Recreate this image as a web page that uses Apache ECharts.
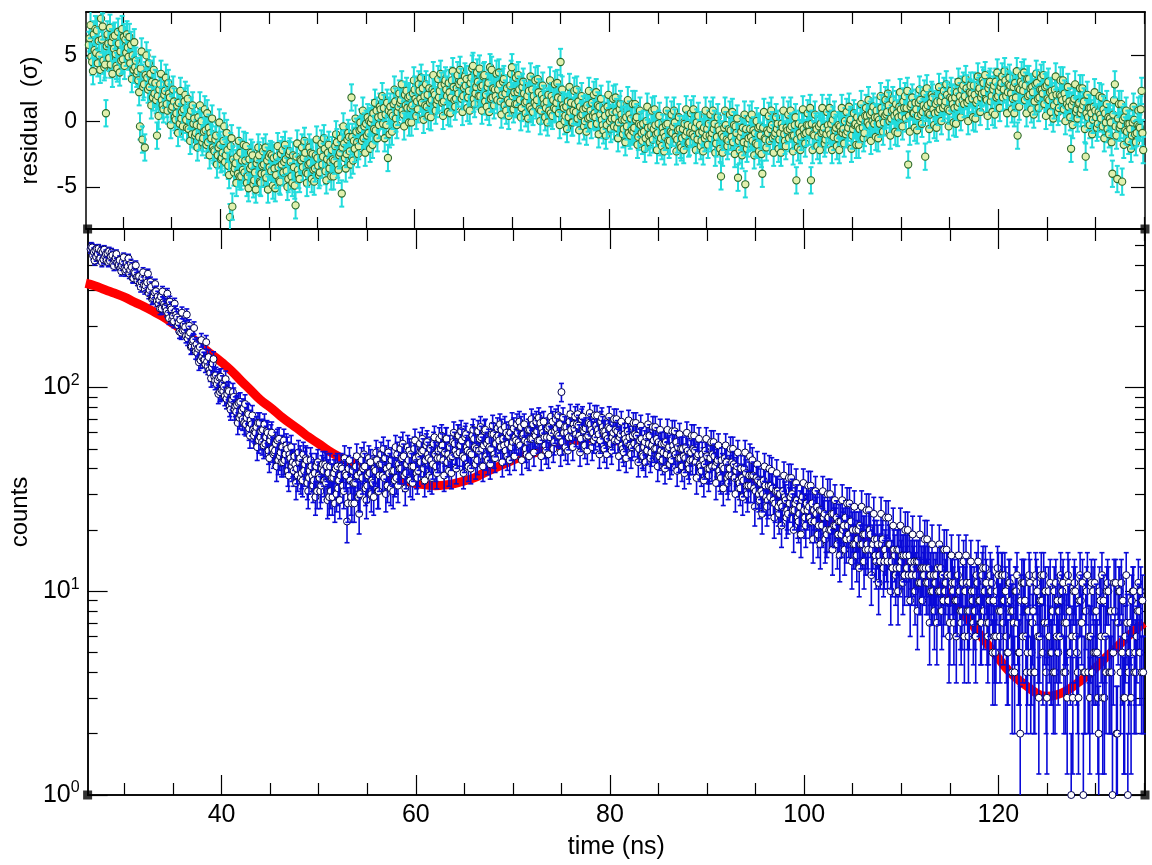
<!DOCTYPE html>
<html><head><meta charset="utf-8">
<script src="https://cdn.jsdelivr.net/npm/echarts@6/dist/echarts.min.js"></script>
<style>html,body{margin:0;padding:0;background:#fff}#c{width:1152px;height:865px}</style>
</head><body><div id="c"></div>
<script>
// ---- sampling grid of the measured data (time bins, ns): bins A, B, C interleaved within each DT ----
const T0 = 26.5, DT = 0.25;

// ---- measured counts, A bins (4 bins per ns per group) ----
const countsA = [
 478,445,470,452, /*26.5*/ 431,462,440,455, 418,446,425,410, 422,396,384,410, 362,390,371,348,
 352,331,318,344, /*31.5*/ 290,312,281,297, 258,279,262,248, 231,247,224,236, 202,215,190,198,
 174,186,168,160, /*36.5*/ 148,158,141,137, 134,122,126,113, 104,112,97,101, 88,96,84,90,
 76,84,73,79, /*41.5*/ 66,74,69,62, 60,67,57,62, 53,60,55,50, 49,55,46,51,
 44,50,47,41, /*46.5*/ 46,40,43,38, 39,44,36,41, 35,41,37,33, 39,34,38,31,
 36,40,32,37, /*51.5*/ 33,38,27,35, 39,34,37,30, 36,41,33,38, 35,40,44,37,
 42,36,40,38, /*56.5*/ 44,39,36,42, 40,46,38,44, 47,41,45,39, 43,49,44,47,
 50,42,47,45, /*61.5*/ 45,52,48,43, 51,46,53,47, 48,55,45,51, 53,47,56,50,
 49,57,52,46, /*66.5*/ 55,50,59,53, 58,51,56,49, 53,60,54,57, 60,52,58,55,
 54,62,56,59, /*71.5*/ 61,55,63,57, 57,64,60,54, 63,58,95,60, 64,57,62,66,
 59,65,56,62, /*76.5*/ 63,58,66,60, 57,62,55,64, 61,56,63,57, 55,61,57,52,
 59,54,57,51, /*81.5*/ 53,58,50,56, 51,57,53,48, 55,50,54,49, 48,54,50,46,
 52,47,51,45, /*86.5*/ 50,45,49,44, 44,49,46,42, 47,42,46,40, 41,46,43,39,
 44,40,43,37, /*91.5*/ 37,42,39,35, 40,35,38,33, 33,37,31,35, 34,30,33,28,
 29,32,27,31, /*96.5*/ 30,26,29,25, 27,30,25,28, 24,28,25,27, 26,22,25,24,
 21,25,23,20, /*101.5*/ 23,20,24,21, 19,22,20,23, 21,18,20,17, 18,21,17,19,
 17,20,16,18, /*106.5*/ 18,15,17,14, 15,17,14,16, 13,16,14,15, 15,12,14,13,
 12,14,11,13, /*111.5*/ 13,11,12,10, 11,13,10,12, 10,12,7,11, 11,9,10,8,
 6,11,8,10, /*116.5*/ 10,12,9,7, 8,11,7,10, 9,6,12,8, 7,10,5,9,
 8,10,7,2, /*121.5*/ 6,9,5,11, 7,4,10,6, 9,7,3,6, 5,10,6,8,
 9,4,7,11, /*126.5*/ 1,10,6,3, 9,1,8,4, 6,10,5,3, 9,3,6,11,
 4,1,8,2, /*131.5*/ 10,5,3,7, 5,9,4,6, 8,4
];

// ---- measured counts, B bins ----
const countsB = [
 492,463,438,481, /*26.6*/ 470,425,452,412, 441,405,433,398, 385,415,371,392, 378,345,366,335,
 322,347,305,328, /*31.6*/ 301,272,293,266, 269,244,257,238, 219,242,211,228, 208,186,203,179,
 181,158,171,150, /*36.6*/ 155,136,149,130, 127,118,131,108, 109,95,104,91, 93,81,87,78,
 82,71,77,67, /*41.6*/ 71,63,66,58, 64,55,61,52, 57,49,58,47, 53,44,48,43,
 47,39,45,43, /*46.6*/ 42,37,45,35, 42,34,39,37, 38,31,36,40, 35,41,29,36,
 38,30,35,41, /*51.6*/ 31,37,40,29, 34,41,29,38, 40,32,37,43, 34,39,31,42,
 37,45,33,41, /*56.6*/ 39,35,47,40, 45,37,42,49, 41,50,38,46, 48,40,52,45,
 44,53,41,49, /*61.6*/ 50,44,56,47, 45,54,49,58, 52,46,57,49, 48,58,51,44,
 56,50,61,53, /*66.6*/ 51,59,47,57, 55,62,52,60, 58,51,63,55, 54,64,59,50,
 62,56,66,58, /*71.6*/ 55,67,60,52, 63,57,68,61, 59,66,54,64, 60,68,57,63,
 66,58,70,61, /*76.6*/ 57,67,62,55, 65,59,68,61, 58,64,53,60, 62,55,59,50,
 56,61,52,58, /*81.6*/ 59,51,55,47, 54,49,58,52, 50,56,46,53, 53,47,51,44,
 49,54,45,50, /*86.6*/ 46,51,42,48, 50,43,47,41, 44,49,40,45, 47,41,44,37,
 41,45,36,40, /*91.6*/ 43,36,41,34, 36,40,33,37, 37,32,36,30, 31,35,29,33,
 33,28,31,26, /*96.6*/ 27,31,28,24, 29,25,27,23, 26,29,23,25, 23,27,22,26,
 25,21,24,19, /*101.6*/ 20,24,21,23, 22,19,21,18, 19,22,17,20, 20,17,19,16,
 16,19,17,15, /*106.6*/ 17,14,18,16, 14,17,13,15, 16,13,15,12, 13,15,12,14,
 14,11,13,12, /*111.6*/ 11,13,10,12, 12,10,13,9, 11,9,12,10, 9,12,8,11,
 10,8,11,9, /*116.6*/ 8,11,9,12, 10,7,9,11, 6,10,8,12, 9,6,11,8,
 7,10,5,9, /*121.6*/ 11,6,8,4, 8,12,6,9, 5,10,7,11, 8,4,9,6,
 10,7,3,8, /*126.6*/ 6,11,5,9, 7,4,10,6, 11,5,8,2, 6,9,4,10,
 8,5,11,7, /*131.6*/ 4,9,6,1, 7,10,5,8, 5,9
];

// ---- measured counts, C bins (the wider-scattered points of the cloud) ----
const countsC = [
 487,420,480,428, /*26.7*/ 412,475,421,466, 460,395,452,400, 372,436,379,430, 405,344,398,350,
 312,368,316,362, /*31.7*/ 330,275,322,280, 244,296,249,289, 264,216,258,221, 188,233,192,228,
 201,159,196,163, /*36.7*/ 133,171,137,167, 141,111,138,115, 93,113,96,110, 97,78,95,81,
 67,85,70,83, /*41.7*/ 75,58,73,61, 51,67,54,66, 61,45,60,48, 41,56,43,55,
 52,37,51,39, /*46.7*/ 34,48,36,47, 45,31,44,33, 29,43,31,42, 42,28,41,29,
 27,41,28,40, /*51.7*/ 45,22,44,27, 27,46,24,44, 47,28,45,30, 29,48,31,47,
 50,30,48,32, /*56.7*/ 31,51,33,50, 53,32,51,35, 34,55,36,53, 56,35,54,37,
 36,57,38,56, /*61.7*/ 58,37,56,39, 38,60,40,58, 61,38,59,41, 40,62,42,61,
 64,41,62,44, /*66.7*/ 42,65,45,63, 66,43,64,46, 44,67,46,66, 68,44,66,47,
 46,70,48,68, /*71.7*/ 71,46,68,49, 47,72,50,70, 73,48,71,51, 49,74,51,72,
 74,48,72,52, /*76.7*/ 49,75,51,73, 73,47,71,50, 47,72,49,70, 70,46,68,48,
 45,69,47,67, /*81.7*/ 67,43,65,46, 43,66,45,64, 64,41,62,44, 40,62,42,61,
 61,39,59,41, /*86.7*/ 38,60,40,58, 58,36,56,39, 35,56,37,54, 54,34,52,36,
 32,52,34,50, /*91.7*/ 50,30,48,32, 29,48,30,46, 44,26,42,28, 24,41,26,40,
 39,23,38,24, /*96.7*/ 21,37,23,36, 36,20,34,22, 19,34,21,33, 33,18,31,19,
 17,31,18,30, /*101.7*/ 30,16,28,17, 15,28,16,27, 27,14,26,15, 13,26,14,25,
 25,12,24,14, /*106.7*/ 11,24,13,23, 23,10,21,12, 10,21,11,20, 20,9,19,10,
 8,19,9,18, /*111.7*/ 18,7,17,8, 7,17,8,16, 16,6,15,7, 6,15,7,14,
 15,6,14,7, /*116.7*/ 6,14,7,13, 13,6,12,5, 5,13,6,12, 12,5,11,4,
 4,12,5,11, /*121.7*/ 11,4,12,5, 4,11,3,12, 12,4,10,5, 4,11,5,12,
 11,4,12,5, /*126.7*/ 3,10,4,12, 11,4,12,3, 4,11,5,10, 12,3,10,4,
 4,11,2,10, /*131.7*/ 11,3,12,4, 3,10,4,11, 10,4
];

// ---- normalised residuals (sigma), A bins ----
const residualsA = [
 5.8,4.9,6.6,5.2, /*26.5*/ 6.1,7.8,4.6,0.6, 5.9,4.3,6.4,5.1, 6.8,5.3,4.7,6.2, 5.6,4.4,5.0,4.1,
 3.8,-0.4,-1.4,-2.0, /*31.5*/ 3.3,2.6,3.0,2.1, -1.1,2.4,1.6,2.0, 1.3,2.1,0.9,1.5, 0.6,1.4,0.2,0.9,
 0.1,-0.6,0.8,-0.2, /*36.5*/ -0.9,0.3,-0.4,-1.3, -0.7,-1.6,-0.9,-2.0, -1.4,-2.6,-1.8,-2.4, -3.1,-2.2,-7.3,-6.5,
 -3.6,-2.7,-4.2,-3.0, /*41.5*/ -3.9,-4.7,-2.9,-3.4, -4.5,-3.2,-2.6,-4.0, -3.3,-4.3,-2.7,-3.8, -2.8,-4.1,-3.5,-2.5,
 -3.9,-2.9,-4.4,-3.1, /*46.5*/ -2.6,-6.4,-3.7,-2.9, -3.5,-2.4,-4.0,-3.2, -2.5,-3.6,-2.8,-3.9, -3.3,-2.1,-2.9,-3.6,
 -2.2,-3.0,-1.6,-2.6, /*51.5*/ -5.5,-1.7,-2.5,-1.2, 1.8,-1.5,-0.8,-1.9, -0.6,-1.3,-0.2,-0.9, -0.1,0.6,-0.7,0.3,
 0.9,-0.2,0.5,-2.8, /*56.5*/ 1.1,0.4,1.5,0.7, 1.4,0.8,2.0,1.0, 1.9,1.2,2.4,1.5, 2.3,1.4,1.9,1.1,
 2.5,1.6,2.2,1.3, /*61.5*/ 1.8,2.7,1.5,2.4, 2.9,1.8,2.6,1.7, 2.1,3.0,1.9,2.7, 1.8,2.9,4.2,2.1,
 3.0,1.9,2.7,1.5, /*66.5*/ 2.6,4.1,1.8,2.4, 1.6,2.8,2.0,1.2, 2.5,1.4,4.1,2.2, 1.3,2.4,1.0,2.1,
 1.5,2.3,0.9,1.9, /*71.5*/ 1.2,2.2,0.8,1.7, 1.0,2.0,0.6,1.6, 0.9,1.8,4.5,1.2, 0.4,1.5,0.7,-0.1,
 1.3,0.2,1.1,0.5, /*76.5*/ 0.0,1.2,0.3,1.4, 0.6,-0.2,1.1,0.1, 0.9,-0.3,0.6,0.2, -0.4,0.7,-0.1,0.5,
 -0.6,0.3,-0.9,0.2, /*81.5*/ -0.8,0.1,-1.2,-0.3, -0.2,-1.3,-0.5,-1.0, -1.4,-0.3,-0.9,-1.6, -0.5,-1.2,-0.2,-1.5,
 -0.9,-0.1,-1.4,-0.6, /*86.5*/ -1.3,-0.2,-0.8,-1.6, -0.4,-1.2,-0.1,-0.9, -1.5,-0.5,-1.1,-0.2, -1.3,-0.6,-1.7,-0.4,
 -4.2,-1.2,-0.3,-1.5, /*91.5*/ -0.7,-1.6,-0.4,-4.3, -1.2,-0.5,-4.8,-1.7, -0.6,-1.5,-0.9,-1.8, -0.4,-4.0,-1.3,-0.7,
 -1.5,-0.3,-1.1,-0.6, /*96.5*/ -1.4,-0.2,-1.0,-0.5, -1.3,-0.4,-1.1,-4.5, -0.2,-1.2,-0.6,-0.9, -0.3,-4.5,-1.0,-0.4,
 -1.2,-0.2,-0.8,-1.4, /*101.5*/ -0.3,-1.0,0.1,-0.7, -1.3,-0.4,-0.9,0.0, -0.8,-0.1,-1.1,-0.3, 0.3,-0.6,0.2,-0.9,
 0.4,-0.3,0.7,-0.2, /*106.5*/ 0.8,0.1,1.0,-0.1, 0.5,1.2,0.2,0.9, 1.3,0.3,0.9,1.5, 0.2,-3.3,1.1,0.6,
 1.4,0.4,1.6,0.7, /*111.5*/ -2.7,1.2,0.5,1.8, 0.6,1.5,0.9,1.9, 1.2,2.0,0.8,1.7, 1.0,2.2,1.4,2.4,
 1.3,2.5,1.6,2.1, /*116.5*/ 2.7,1.4,2.3,1.8, 2.9,1.7,2.5,1.5, 2.4,3.0,1.9,2.6, 1.8,3.1,2.2,2.7,
 1.7,2.9,-1.1,2.4, /*121.5*/ 2.8,1.6,3.2,2.0, 2.6,1.5,2.9,1.8, 2.4,1.3,2.7,1.6, 2.3,1.2,2.0,1.0,
 1.9,0.9,1.7,1.1, /*126.5*/ -2.1,1.5,0.7,1.3, 0.6,1.2,-2.7,0.3, 1.0,0.1,0.8,-0.2, 0.5,-0.4,0.6,-0.6,
 0.2,-4.0,2.8,-4.4, /*131.5*/ -0.5,-4.6,0.3,-0.8, -0.2,-1.1,0.1,-0.9, -0.4,2.3
];

// ---- normalised residuals (sigma), B bins ----
const residualsB = [
 6.3,4.5,5.4,6.9, /*26.6*/ 5.0,6.2,4.1,5.7, 4.8,6.0,5.5,4.2, 5.9,4.6,6.4,5.2, 4.9,5.8,3.9,4.6,
 3.1,4.0,2.6,3.5, /*31.6*/ 2.4,3.6,1.8,2.9, 1.9,2.8,1.2,2.3, 0.8,1.8,1.1,0.3, 1.2,-0.2,0.7,1.5,
 -0.5,0.4,-1.0,0.2, /*36.6*/ -0.3,-1.2,0.0,-0.8, -1.8,-0.5,-1.3,-2.2, -1.1,-2.0,-2.9,-1.5, -2.6,-3.4,-1.9,-2.9,
 -3.2,-4.0,-2.4,-3.7, /*41.6*/ -3.0,-4.2,-3.6,-2.6, -3.9,-2.9,-4.6,-3.4, -4.0,-3.0,-3.5,-2.6, -3.6,-2.7,-4.5,-3.3,
 -3.1,-3.8,-2.5,-4.2, /*46.6*/ -3.5,-2.7,-4.1,-3.0, -2.8,-3.9,-3.3,-2.4, -3.7,-2.6,-3.4,-2.3, -2.7,-3.8,-2.4,-3.1,
 -2.9,-1.9,-3.3,-2.4, /*51.6*/ -2.0,-2.8,-1.4,-2.3, -1.2,-2.1,-1.6,-0.7, -1.5,-0.4,-1.1,0.0, 0.2,-0.6,0.8,-0.3,
 0.4,1.0,-0.3,0.8, /*56.6*/ 0.6,1.3,0.2,1.1, 1.6,0.5,1.2,1.8, 1.0,2.1,1.7,0.9, 1.7,2.5,1.2,2.0,
 1.4,2.4,2.0,1.6, /*61.6*/ 2.3,1.4,2.8,1.9, 2.2,3.1,1.6,2.5, 2.8,1.7,2.5,3.2, 2.3,3.3,1.7,2.6,
 1.9,2.6,3.4,2.0, /*66.6*/ 2.9,1.7,2.5,1.9, 2.4,1.5,3.0,2.1, 1.6,2.7,1.9,1.3, 2.2,1.6,2.6,1.4,
 1.9,1.1,2.4,1.4, /*71.6*/ 1.6,0.9,2.0,1.3, 1.5,0.8,1.9,1.0, 1.4,0.6,1.7,1.0, 1.1,0.3,1.4,0.8,
 0.7,1.5,0.4,0.9, /*76.6*/ 1.0,0.2,0.8,0.4, 0.3,1.2,0.5,-0.3, 0.4,1.1,0.0,0.7, 0.2,-0.5,0.9,0.1,
 0.1,-0.4,0.5,-0.7, /*81.6*/ -0.5,0.3,-0.2,-0.9, -0.8,0.0,-1.1,-0.4, -0.6,-1.0,-0.2,-1.3, -0.9,-0.3,-1.5,-0.8,
 -0.4,-1.2,-0.7,-1.8, /*86.6*/ -0.6,-1.1,-0.3,-0.9, -1.0,-0.5,-1.4,-0.3, -0.8,-1.3,-0.6,-1.1, -0.9,-0.2,-1.2,-0.7,
 -1.0,-0.5,-1.4,-0.6, /*91.6*/ -1.2,-0.3,-0.9,-1.5, -0.8,-1.6,-0.6,-1.3, -1.2,-0.7,-1.7,-0.5, -1.1,-0.5,-1.4,-0.9,
 -0.6,-1.3,-0.9,-0.2, /*96.6*/ -0.9,-0.5,-1.5,-0.7, -0.6,-1.1,-0.3,-1.4, -0.9,-0.4,-1.0,-0.3, -0.8,-0.2,-1.1,-0.6,
 -0.4,-0.9,-0.5,-1.0, /*101.6*/ -0.7,-0.2,-1.2,-0.5, -0.3,-0.8,-0.6,-1.0, -0.5,0.1,-0.6,-0.2, -0.4,0.0,-0.5,0.4,
 -0.1,0.5,0.0,0.3, /*106.6*/ 0.3,-0.2,0.6,0.4, 0.7,0.0,0.8,0.4, 0.6,1.1,0.4,1.0, 1.0,0.4,1.3,0.6,
 0.9,1.4,0.5,1.2, /*111.6*/ 1.0,0.6,1.4,0.9, 1.3,0.7,1.5,1.0, 1.5,0.9,1.8,1.3, 1.8,1.1,1.9,1.6,
 1.9,1.4,2.2,1.7, /*116.6*/ 2.0,1.6,2.5,2.1, 2.2,1.6,2.8,1.9, 2.7,1.8,2.3,2.9, 2.4,1.9,2.8,2.1,
 2.6,1.8,2.5,3.0, /*121.6*/ 2.3,2.7,1.9,2.5, 2.2,2.8,1.7,2.4, 2.1,2.6,1.7,2.2, 1.9,2.4,1.5,2.0,
 1.6,2.1,1.3,1.5, /*126.6*/ 1.2,1.7,0.9,1.4, 0.9,1.5,0.6,1.0, 0.6,1.1,0.3,0.7, 0.2,0.9,-0.1,0.3,
 -0.1,0.5,-0.4,0.2, /*131.6*/ -0.3,0.1,-0.7,-0.2, -0.6,-0.1,-1.0,-0.3, -0.5,-0.9
];

// ---- normalised residuals (sigma), C bins ----
const residualsC = [
 7.3,3.8,7.0,4.4, /*26.7*/ 3.9,7.2,4.3,6.6, 7.1,3.6,6.5,4.0, 3.7,7.0,4.2,6.6, 6.4,3.2,6.0,3.6,
 2.2,5.3,2.8,5.0, /*31.7*/ 4.4,1.2,3.9,1.6, 0.4,3.6,0.9,3.3, 2.9,-0.3,2.4,0.1, -0.9,2.3,-0.4,2.0,
 1.7,-1.5,1.2,-1.1, /*36.7*/ -2.0,1.2,-1.6,0.9, 0.6,-2.6,0.2,-2.3, -3.3,-0.1,-2.8,-0.4, -0.9,-4.1,-1.3,-3.9,
 -4.7,-1.5,-4.2,-1.8, /*41.7*/ -1.9,-5.1,-2.4,-4.8, -5.2,-2.0,-4.7,-2.3, -2.0,-5.2,-2.5,-4.9, -5.1,-1.9,-4.6,-2.2,
 -1.8,-5.0,-2.3,-4.7, /*46.7*/ -4.9,-1.7,-4.4,-2.0, -1.5,-4.7,-2.0,-4.4, -4.6,-1.4,-4.1,-1.7, -1.3,-4.5,-1.8,-4.2,
 -4.2,-1.0,-3.7,-1.3, /*51.7*/ -0.4,-3.6,-0.9,-3.3, -3.0,0.2,-2.5,-0.1, 0.8,-2.4,0.3,-2.1, -1.8,1.4,-1.3,1.1,
 1.9,-1.3,1.4,-1.0, /*56.7*/ -0.8,2.4,-0.3,2.1, 2.8,-0.4,2.3,-0.1, -0.1,3.1,0.4,2.8, 3.3,0.1,2.8,0.4,
 0.3,3.5,0.8,3.2, /*61.7*/ 3.6,0.4,3.1,0.7, 0.6,3.8,1.1,3.5, 3.9,0.7,3.4,1.0, 0.8,4.0,1.3,3.7,
 4.0,0.8,3.5,1.1, /*66.7*/ 0.7,3.9,1.2,3.6, 3.7,0.5,3.2,0.8, 0.4,3.6,0.9,3.3, 3.5,0.3,3.0,0.6,
 0.2,3.4,0.7,3.1, /*71.7*/ 3.2,0.0,2.7,0.3, -0.1,3.1,0.4,2.8, 2.9,-0.3,2.4,0.0, -0.6,2.6,-0.1,2.3,
 2.4,-0.7,1.9,-0.4, /*76.7*/ -0.8,2.3,-0.3,2.0, 2.2,-1.0,1.7,-0.7, -1.1,2.0,-0.6,1.7, 1.8,-1.3,1.3,-1.0,
 -1.6,1.6,-1.1,1.3, /*81.7*/ 1.3,-1.8,0.8,-1.5, -2.1,1.1,-1.6,0.8, 0.9,-2.2,0.4,-1.9, -2.3,0.8,-1.8,0.5,
 0.8,-2.3,0.3,-2.0, /*86.7*/ -2.2,0.9,-1.7,0.6, 0.9,-2.2,0.4,-1.9, -2.3,0.8,-1.8,0.5, 0.8,-2.4,0.3,-2.1,
 -2.4,0.8,-1.9,0.5, /*91.7*/ 0.7,-2.5,0.2,-2.2, -2.6,0.5,-2.1,0.2, 0.5,-2.6,0.0,-2.3, -2.5,0.7,-2.0,0.4,
 0.8,-2.4,0.3,-2.1, /*96.7*/ -2.4,0.8,-1.9,0.5, 0.8,-2.3,0.3,-2.0, -2.2,0.9,-1.7,0.6, 1.0,-2.2,0.5,-1.9,
 -2.2,1.0,-1.7,0.7, /*101.7*/ 1.0,-2.2,0.5,-1.9, -2.2,1.0,-1.7,0.7, 1.1,-2.1,0.6,-1.8, -1.8,1.3,-1.3,1.0,
 1.6,-1.5,1.1,-1.2, /*106.7*/ -1.3,1.9,-0.8,1.6, 2.1,-1.1,1.6,-0.8, -0.9,2.2,-0.4,1.9, 2.3,-0.8,1.8,-0.5,
 -0.7,2.4,-0.2,2.1, /*111.7*/ 2.5,-0.6,2.0,-0.3, -0.5,2.6,0.0,2.3, 2.8,-0.4,2.3,-0.1, -0.2,3.0,0.3,2.7,
 3.2,0.0,2.7,0.3, /*116.7*/ 0.2,3.4,0.7,3.1, 3.5,0.4,3.0,0.7, 0.5,3.7,1.0,3.4, 3.8,0.6,3.3,0.9,
 0.6,3.8,1.1,3.5, /*121.7*/ 3.7,0.6,3.2,0.9, 0.5,3.6,1.0,3.3, 3.5,0.4,3.0,0.7, 0.2,3.4,0.7,3.1,
 3.1,0.0,2.6,0.3, /*126.7*/ -0.3,2.8,0.2,2.5, 2.5,-0.6,2.0,-0.3, -1.0,2.2,-0.5,1.9, 1.8,-1.3,1.3,-1.0,
 -1.6,1.6,-1.1,1.3, /*131.7*/ 1.3,-1.8,0.8,-1.5, -2.1,1.1,-1.6,0.8, 0.9,-2.2
];

// ---- fitted model curve (counts), read at 1 ns steps ----
const fitTimes = [26,27,28,29,30,31,32,33,34,35,36,37,38,39,40,41,42,43,44,45,46,47,48,49,50,
 51,52,53,54,55,56,57,58,59,60,61,62,63,64,65,66,67,68,69,70,71,72,73,74,75,76,77,78,79,80,
 81,82,83,84,85,86,87,88,89,90,91,92,93,94,95,96,97,98,99,100,101,102,103,104,105,106,107,108,109,110,
 111,112,113,114,115,116,117,118,119,120,121,122,123,124,125,126,127,128,129,130,131,132,133,134,135];
const fitCounts = [325,315,302,290,278,263,250,236,222,206,190,174,158,145,133,121,108,97,87,80,73,67,62,57,53,
 49,46,43.5,41.5,40,38.5,37,35.5,34.5,33.8,33.3,33,33.2,33.8,34.8,36,38,40,42,44,46,47.5,49,51,53,54.5,55.5,56,56,55.5,
 54.5,53.5,52.5,51.5,50.5,49.5,48.5,47,45.5,44,42,40,38,35.5,33,31,29.5,28,26.5,25,24,22.5,21,20,19,18,17,16,15,14,
 13,12,11.2,10.5,9.6,8.3,7.2,6.2,5.4,4.7,4.1,3.7,3.4,3.15,3.05,3.1,3.25,3.5,3.8,4.2,4.7,5.2,5.8,6.4,7.0];

// ---- axis ticks ----
const xMajorTicks = [40, 60, 80, 100, 120];
const xMinorTicks = [30, 35, 45, 50, 55, 65, 70, 75, 85, 90, 95, 105, 110, 115, 125, 130, 135];
const resTicks = [-5, 0, 5];
const logMajorTicks = [1, 10, 100];
const logMinorTicks = [2,3,4,5,6,7,8,9, 20,30,40,50,60,70,80,90, 200,300,400,500];

const X_MIN = 26.2, X_MAX = 135.1;
const RES_MIN = -8.2, RES_MAX = 8.3;
const CNT_MIN = 1, CNT_MAX = 600;
const FONT = "'Liberation Sans', Arial, Helvetica, sans-serif";

// interleave A, B, C bins in time order
function merge(sets) {
  const out = [];
  const n = Math.max.apply(null, sets.map(s => s.length));
  for (let i = 0; i < n; i++) {
    sets.forEach((s, k) => { if (i < s.length) out.push([T0 + i * DT + k * DT / sets.length, s[i]]); });
  }
  return out;
}
const countData = merge([countsA, countsB, countsC]).map(([t, c]) => [t, c, Math.max(c - Math.sqrt(c), 0.3), c + Math.sqrt(c)]);
const resData = merge([residualsA, residualsB, residualsC]).map(([t, r]) => [t, r, r - 1, r + 1]);
const fitData = fitTimes.map((t, i) => [t, fitCounts[i]]);

function pointRenderer(o) {
  return function (params, api) {
    const cs = params.coordSys;
    const t = api.value(0), v = api.value(1), lo = api.value(2), hi = api.value(3);
    const pc = api.coord([t, v]);
    const ph = api.coord([t, hi]);
    const pl = api.coord([t, lo]);
    const top = cs.y, bot = cs.y + cs.height;
    const yh = Math.max(ph[1], top), yl = Math.min(pl[1], bot);
    const ch = [];
    const ls = { stroke: o.bar, lineWidth: o.barW };
    ch.push({ type: 'line', shape: { x1: pc[0], y1: yh, x2: pc[0], y2: yl }, style: ls });
    if (ph[1] >= top) ch.push({ type: 'line', shape: { x1: pc[0] - o.cap, y1: ph[1], x2: pc[0] + o.cap, y2: ph[1] }, style: ls });
    if (pl[1] <= bot) ch.push({ type: 'line', shape: { x1: pc[0] - o.cap, y1: pl[1], x2: pc[0] + o.cap, y2: pl[1] }, style: ls });
    if (pc[1] >= top - 1 && pc[1] <= bot + 1)
      ch.push({ type: 'circle', shape: { cx: pc[0], cy: pc[1], r: o.r }, style: { fill: o.fill, stroke: o.edge, lineWidth: o.edgeW } });
    return { type: 'group', children: ch };
  };
}

const AXC = '#000';
function xAx(grid, pos, ticks, len, extra) {
  return Object.assign({
    type: 'value', gridIndex: grid, position: pos, min: X_MIN, max: X_MAX,
    axisLine: { show: true, onZero: false, lineStyle: { color: AXC, width: 1.5 } },
    axisTick: { show: true, inside: true, length: len, customValues: ticks, lineStyle: { color: AXC, width: 1.2 } },
    axisLabel: { show: false }, splitLine: { show: false }
  }, extra || {});
}
function logAx(pos, ticks, len, extra) {
  return Object.assign({
    type: 'log', logBase: 10, gridIndex: 1, position: pos, min: CNT_MIN, max: CNT_MAX,
    axisLine: { show: true, onZero: false, lineStyle: { color: AXC, width: 1.5 } },
    axisTick: { show: true, inside: true, length: len, customValues: ticks, lineStyle: { color: AXC, width: 1.2 } },
    axisLabel: { show: false }, splitLine: { show: false }
  }, extra || {});
}
function resAx(pos, extra) {
  return Object.assign({
    type: 'value', gridIndex: 0, position: pos, min: RES_MIN, max: RES_MAX,
    axisLine: { show: true, onZero: false, lineStyle: { color: AXC, width: 1.5 } },
    axisTick: { show: true, inside: true, length: 14, customValues: resTicks, lineStyle: { color: AXC, width: 1.2 } },
    axisLabel: { show: false }, splitLine: { show: false }
  }, extra || {});
}

const option = {
  animation: false,
  backgroundColor: '#fff',
  grid: [
    { left: 86, top: 12, width: 1059, height: 217 },
    { left: 86, top: 229, width: 1059, height: 569 }
  ],
  xAxis: [
    xAx(1, 'bottom', xMajorTicks, 20, {
      name: 'time (ns)', nameLocation: 'middle', nameGap: 40,
      nameTextStyle: { fontFamily: FONT, fontSize: 25, color: '#000' },
      axisLabel: { show: true, customValues: xMajorTicks, margin: 8, fontFamily: FONT, fontSize: 25, color: '#000' }
    }),
    xAx(1, 'bottom', xMinorTicks, 12),
    xAx(1, 'top', xMajorTicks, 20),
    xAx(1, 'top', xMinorTicks, 12),
    xAx(0, 'bottom', xMajorTicks, 20),
    xAx(0, 'bottom', xMinorTicks, 12),
    xAx(0, 'top', xMajorTicks, 20),
    xAx(0, 'top', xMinorTicks, 12)
  ],
  yAxis: [
    logAx('left', logMajorTicks, 20, {
      name: 'counts', nameLocation: 'middle', nameGap: 52,
      nameTextStyle: { fontFamily: FONT, fontSize: 24, color: '#000' },
      axisLabel: {
        show: true, customValues: logMajorTicks, margin: 8, color: '#000',
        formatter: v => '{b|10}{s|' + Math.round(Math.log10(v)) + '}',
        rich: {
          b: { fontFamily: FONT, fontSize: 25, lineHeight: 30, color: '#000' },
          s: { fontFamily: FONT, fontSize: 16, lineHeight: 16, verticalAlign: 'top', color: '#000' }
        }
      }
    }),
    logAx('left', logMinorTicks, 10),
    logAx('right', logMajorTicks, 20),
    logAx('right', logMinorTicks, 10),
    resAx('left', {
      name: 'residual  (σ)', nameLocation: 'middle', nameGap: 44,
      nameTextStyle: { fontFamily: FONT, fontSize: 24, color: '#000' },
      axisLabel: { show: true, customValues: resTicks, margin: 9, fontFamily: FONT, fontSize: 23, color: '#000' }
    }),
    resAx('right')
  ],
  series: [
    {
      name: 'fit', type: 'line', xAxisIndex: 0, yAxisIndex: 0, data: fitData,
      smooth: true, symbol: 'none', z: 1,
      lineStyle: { color: '#ff0000', width: 9 }
    },
    {
      name: 'counts', type: 'custom', xAxisIndex: 0, yAxisIndex: 0, data: countData, z: 2,
      encode: { x: 0, y: 1 },
      renderItem: pointRenderer({ bar: '#0a0ad8', barW: 1.6, cap: 2.5, r: 3.5, fill: '#ffffff', edge: '#000050', edgeW: 1 })
    },
    {
      name: 'residual', type: 'custom', xAxisIndex: 4, yAxisIndex: 4, data: resData, z: 2,
      encode: { x: 0, y: 1 },
      renderItem: pointRenderer({ bar: '#22dcdc', barW: 2, cap: 2.5, r: 3.6, fill: '#e2f0ae', edge: '#2c6a2c', edgeW: 1.1 })
    },
    {
      name: 'corners', type: 'scatter', xAxisIndex: 0, yAxisIndex: 0, z: 5,
      symbol: 'rect', symbolSize: 9, itemStyle: { color: '#000' }, clip: false,
      data: [[X_MIN, CNT_MIN], [X_MAX, CNT_MIN], [X_MIN, CNT_MAX], [X_MAX, CNT_MAX]]
    }
  ]
};

const chart = echarts.init(document.getElementById('c'), null, { renderer: 'canvas' });
chart.setOption(option);
</script>
</body></html>
